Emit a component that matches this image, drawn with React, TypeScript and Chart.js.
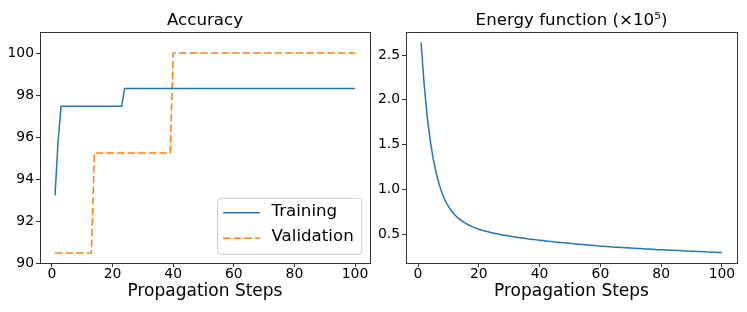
import React, { useEffect, useRef } from "react";
import { Chart, registerables } from "chart.js";

Chart.register(...registerables);

const FONT = "DejaVu Sans";

// ---------- data ----------
const steps = [
  1, 2, 3, 4, 5, 6, 7, 8, 9, 10,
  11, 12, 13, 14, 15, 16, 17, 18, 19, 20,
  21, 22, 23, 24, 25, 26, 27, 28, 29, 30,
  31, 32, 33, 34, 35, 36, 37, 38, 39, 40,
  41, 42, 43, 44, 45, 46, 47, 48, 49, 50,
  51, 52, 53, 54, 55, 56, 57, 58, 59, 60,
  61, 62, 63, 64, 65, 66, 67, 68, 69, 70,
  71, 72, 73, 74, 75, 76, 77, 78, 79, 80,
  81, 82, 83, 84, 85, 86, 87, 88, 89, 90,
  91, 92, 93, 94, 95, 96, 97, 98, 99, 100,
];

const training = [
  93.22, 95.76, 97.46, 97.46, 97.46, 97.46, 97.46, 97.46, 97.46, 97.46,
  97.46, 97.46, 97.46, 97.46, 97.46, 97.46, 97.46, 97.46, 97.46, 97.46,
  97.46, 97.46, 97.46, 98.31, 98.31, 98.31, 98.31, 98.31, 98.31, 98.31,
  98.31, 98.31, 98.31, 98.31, 98.31, 98.31, 98.31, 98.31, 98.31, 98.31,
  98.31, 98.31, 98.31, 98.31, 98.31, 98.31, 98.31, 98.31, 98.31, 98.31,
  98.31, 98.31, 98.31, 98.31, 98.31, 98.31, 98.31, 98.31, 98.31, 98.31,
  98.31, 98.31, 98.31, 98.31, 98.31, 98.31, 98.31, 98.31, 98.31, 98.31,
  98.31, 98.31, 98.31, 98.31, 98.31, 98.31, 98.31, 98.31, 98.31, 98.31,
  98.31, 98.31, 98.31, 98.31, 98.31, 98.31, 98.31, 98.31, 98.31, 98.31,
  98.31, 98.31, 98.31, 98.31, 98.31, 98.31, 98.31, 98.31, 98.31, 98.31,
];

const validation = [
  90.48, 90.48, 90.48, 90.48, 90.48, 90.48, 90.48, 90.48, 90.48, 90.48,
  90.48, 90.48, 90.48, 95.24, 95.24, 95.24, 95.24, 95.24, 95.24, 95.24,
  95.24, 95.24, 95.24, 95.24, 95.24, 95.24, 95.24, 95.24, 95.24, 95.24,
  95.24, 95.24, 95.24, 95.24, 95.24, 95.24, 95.24, 95.24, 95.24, 100,
  100, 100, 100, 100, 100, 100, 100, 100, 100, 100,
  100, 100, 100, 100, 100, 100, 100, 100, 100, 100,
  100, 100, 100, 100, 100, 100, 100, 100, 100, 100,
  100, 100, 100, 100, 100, 100, 100, 100, 100, 100,
  100, 100, 100, 100, 100, 100, 100, 100, 100, 100,
  100, 100, 100, 100, 100, 100, 100, 100, 100, 100,
];

const energy = [
  2.64, 2.18, 1.82, 1.55, 1.34, 1.18, 1.05, 0.95, 0.87, 0.81,
  0.76, 0.72, 0.685, 0.66, 0.635, 0.615, 0.597, 0.581, 0.567, 0.555,
  0.544, 0.534, 0.526, 0.518, 0.511, 0.504, 0.497, 0.491, 0.485, 0.479,
  0.473, 0.468, 0.463, 0.458, 0.453, 0.448, 0.444, 0.44, 0.436, 0.432,
  0.428, 0.424, 0.42, 0.417, 0.413, 0.41, 0.406, 0.403, 0.4, 0.397,
  0.393, 0.39, 0.387, 0.384, 0.381, 0.378, 0.375, 0.372, 0.369, 0.366,
  0.364, 0.362, 0.36, 0.357, 0.355, 0.353, 0.351, 0.349, 0.347, 0.345,
  0.343, 0.341, 0.339, 0.337, 0.335, 0.333, 0.331, 0.329, 0.327, 0.325,
  0.323, 0.322, 0.32, 0.319, 0.317, 0.316, 0.314, 0.313, 0.311, 0.31,
  0.308, 0.307, 0.305, 0.304, 0.302, 0.301, 0.299, 0.298, 0.296, 0.295,
];

const stepTicks = [0, 20, 40, 60, 80, 100];
const accuracyTicks = [90, 92, 94, 96, 98, 100];
const accuracyLimits = [90, 101];
const energyTicks = [0.5, 1.0, 1.5, 2.0, 2.5];
const seriesLabels = ["Training", "Validation"];
const energyLabel = "Energy";
const titleAccuracy = "Accuracy";
const titleEnergy = "Energy function (×10⁵)";
const xTitle = "Propagation Steps";

// ---------- helpers ----------
const margin = (arr: number[]) => {
  const lo = Math.min(...arr);
  const hi = Math.max(...arr);
  const m = (hi - lo) * 0.05;
  return [lo - m, hi + m];
};

const framePlugin = {
  id: "frame",
  afterDraw(chart: any) {
    const { ctx, chartArea: a } = chart;
    ctx.save();
    ctx.strokeStyle = "#333333";
    ctx.lineWidth = 1;
    ctx.strokeRect(
      Math.round(a.left) + 0.5,
      Math.round(a.top) + 0.5,
      Math.round(a.right) - Math.round(a.left),
      Math.round(a.bottom) - Math.round(a.top)
    );
    ctx.restore();
  },
};

const innerLegendPlugin = {
  id: "innerLegend",
  afterDatasetsDraw(chart: any) {
    const { ctx, chartArea: a } = chart;
    const ds = chart.data.datasets;
    ctx.save();
    ctx.font = `16.67px "${FONT}"`;
    const textW = Math.max(...ds.map((d: any) => ctx.measureText(d.label).width));
    const padL = 5.7, handle = 36.7, gap = 11.6, padR = 8;
    const rowH = 25.6, h = 56;
    const w = padL + handle + gap + textW + padR;
    const x = a.right - 8.3 - w;
    const y = a.bottom - 8.7 - h;
    ctx.beginPath();
    (ctx as any).roundRect(x, y, w, h, 3.5);
    ctx.fillStyle = "rgba(255,255,255,0.8)";
    ctx.fill();
    ctx.strokeStyle = "#cccccc";
    ctx.lineWidth = 1;
    ctx.stroke();
    ds.forEach((d: any, i: number) => {
      const cy = y + 14.4 + i * rowH;
      ctx.beginPath();
      ctx.setLineDash(d.borderDash || []);
      ctx.strokeStyle = d.borderColor;
      ctx.lineWidth = d.borderWidth;
      ctx.moveTo(x + padL, cy);
      ctx.lineTo(x + padL + handle, cy);
      ctx.stroke();
      ctx.setLineDash([]);
      ctx.fillStyle = "#000";
      ctx.textAlign = "left";
      ctx.textBaseline = "middle";
      ctx.fillText(d.label, x + padL + handle + gap, cy - 1.3);
    });
    ctx.restore();
  },
};

function makeOptions(
  title: string,
  yMin: number,
  yMax: number,
  yTicks: number[],
  yWidth: number,
  padRight: number,
  fmt: (v: number) => string
) {
  const [xMin, xMax] = margin(steps);
  return {
    animation: false,
    responsive: false,
    maintainAspectRatio: false,
    events: [],
    layout: { padding: { left: 0, right: padRight, top: 0, bottom: 0 } },
    plugins: {
      legend: { display: false },
      tooltip: { enabled: false },
      title: {
        display: true,
        text: title,
        fullSize: false,
        color: "#000",
        font: { family: FONT, size: 16.67, weight: "normal", lineHeight: 1.2 },
        padding: { top: 11, bottom: 1 },
      },
    },
    scales: {
      x: {
        type: "linear",
        min: xMin,
        max: xMax,
        afterBuildTicks: (s: any) => {
          s.ticks = stepTicks.map((value) => ({ value }));
        },
        afterFit: (s: any) => {
          s.height = 49;
        },
        grid: {
          display: true,
          drawOnChartArea: false,
          drawTicks: true,
          tickLength: 4,
          tickColor: "#333333",
          tickWidth: 1,
        },
        border: { display: false },
        ticks: {
          color: "#000",
          font: { family: FONT, size: 13.9, lineHeight: 1 },
          padding: 0,
          maxRotation: 0,
          autoSkip: false,
          callback: (v: number) => String(v),
        },
        title: {
          display: true,
          text: xTitle,
          color: "#000",
          font: { family: FONT, size: 17, lineHeight: 1.2 },
          padding: { top: 0, bottom: 10.2 },
        },
      },
      y: {
        type: "linear",
        min: yMin,
        max: yMax,
        afterBuildTicks: (s: any) => {
          s.ticks = yTicks.map((value) => ({ value }));
        },
        afterFit: (s: any) => {
          s.width = yWidth;
        },
        grid: {
          display: true,
          drawOnChartArea: false,
          drawTicks: true,
          tickLength: 4,
          tickColor: "#333333",
          tickWidth: 1,
        },
        border: { display: false },
        ticks: {
          color: "#000",
          font: { family: FONT, size: 13.9, lineHeight: 1.2 },
          padding: 2,
          autoSkip: false,
          callback: (v: number) => fmt(v),
        },
      },
    },
  };
}

export default function App() {
  const leftRef = useRef<HTMLCanvasElement>(null);
  const rightRef = useRef<HTMLCanvasElement>(null);

  useEffect(() => {
    const left = new Chart(leftRef.current as HTMLCanvasElement, {
      type: "line",
      data: {
        datasets: [
          {
            label: seriesLabels[0],
            data: steps.map((x, i) => ({ x, y: training[i] })),
            borderColor: "#1f77b4",
            borderWidth: 1.5,
            pointRadius: 0,
            tension: 0,
            fill: false,
          },
          {
            label: seriesLabels[1],
            data: steps.map((x, i) => ({ x, y: validation[i] })),
            borderColor: "#ff7f0e",
            borderWidth: 1.5,
            borderDash: [7.4, 3.2],
            pointRadius: 0,
            tension: 0,
            fill: false,
          },
        ],
      },
      options: makeOptions(
        titleAccuracy,
        accuracyLimits[0],
        accuracyLimits[1],
        accuracyTicks,
        40,
        4,
        (v) => String(v)
      ) as any,
      plugins: [framePlugin, innerLegendPlugin],
    });

    const [eMin, eMax] = margin(energy);
    const right = new Chart(rightRef.current as HTMLCanvasElement, {
      type: "line",
      data: {
        datasets: [
          {
            label: energyLabel,
            data: steps.map((x, i) => ({ x, y: energy[i] })),
            borderColor: "#1f77b4",
            borderWidth: 1.5,
            pointRadius: 0,
            tension: 0,
            fill: false,
          },
        ],
      },
      options: makeOptions(titleEnergy, eMin, eMax, energyTicks, 32, 10, (v) =>
        v.toFixed(1)
      ) as any,
      plugins: [framePlugin],
    });

    return () => {
      left.destroy();
      right.destroy();
    };
  }, []);

  return (
    <div
      style={{
        position: "fixed",
        left: 0,
        top: 0,
        width: 747,
        height: 312,
        background: "#fff",
        overflow: "hidden",
      }}
    >
      <canvas
        ref={leftRef}
        width={374}
        height={312}
        style={{ position: "absolute", left: 0, top: 0, width: 374, height: 312 }}
      />
      <canvas
        ref={rightRef}
        width={373}
        height={312}
        style={{ position: "absolute", left: 374, top: 0, width: 373, height: 312 }}
      />
    </div>
  );
}
